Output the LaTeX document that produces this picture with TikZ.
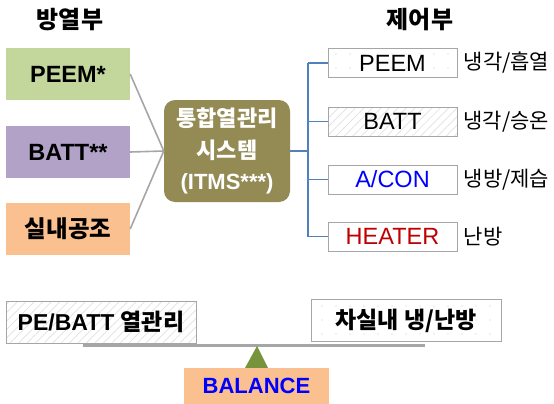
\documentclass[tikz,border=0pt]{standalone}
\usepackage{fontspec}
\setmainfont{Liberation Sans}
\newfontfamily\kr{Noto Sans CJK KR}
\usetikzlibrary{patterns.meta}
\definecolor{cgreen}{HTML}{C3D69B}
\definecolor{cpurple}{HTML}{B2A2C7}
\definecolor{corange}{HTML}{FAC090}
\definecolor{colive}{HTML}{948A54}
\definecolor{cblue}{HTML}{4F81BD}
\definecolor{cgray}{HTML}{A6A6A6}
\definecolor{ctri}{HTML}{77933C}
\definecolor{cred}{HTML}{C00000}
\tikzset{
  srcbox/.style={rectangle, minimum width=124pt, minimum height=52pt, inner sep=0pt, font=\fontsize{23.5}{27}\selectfont\bfseries},
  ctlbox/.style={rectangle, draw=cgray, line width=1pt, minimum width=129pt, minimum height=29pt, inner sep=0pt, font=\fontsize{23.5}{27}\selectfont},
  ctllabel/.style={anchor=west, inner sep=0pt, font=\fontsize{21}{25}\selectfont\kr},
  title/.style={font=\fontsize{24}{28}\selectfont\kr\bfseries, inner sep=0pt},
  hatch/.style={pattern={Lines[angle=45,distance=6pt,line width=0.7pt]}, pattern color=black!12},
  dotted pat/.style={pattern={Dots[distance=14pt,radius=0.7pt]}, pattern color=black!22},
  graylink/.style={draw=cgray, line width=1.6pt},
  bluelink/.style={draw=cblue, line width=1.8pt},
  botbox/.style={rectangle, draw=cgray, line width=1pt, minimum width=190pt, minimum height=42pt, inner sep=0pt, font=\fontsize{23}{27}\selectfont\bfseries}
}
\begin{document}
\begin{tikzpicture}[x=1pt,y=-1pt]
\useasboundingbox (0,0) rectangle (554,404);
% titles
\node[title] (t1) at (70,20) {방열부};
\node[title] (t2) at (420,20) {제어부};
% source boxes
\node[srcbox, fill=cgreen] (peem) at (68,74) {PEEM*};
\node[srcbox, fill=cpurple] (batt) at (68,152) {BATT**};
\node[srcbox, fill=corange] (hvac) at (68,229) {\kr 실내공조};
% ITMS
\node[rectangle, rounded corners=11pt, fill=colive, minimum width=126pt, minimum height=102pt, inner sep=0pt, text=white, align=center, font=\fontsize{22}{31.5}\selectfont\bfseries] (itms) at (227,151) {{\kr 통합열관리}\\{\kr 시스템}\\(ITMS***)};
\draw[graylink] (peem.east) -- (itms.west);
\draw[graylink] (batt.east) -- (itms.west);
\draw[graylink] (hvac.east) -- (itms.west);
% control boxes
\node[ctlbox, dotted pat] (r1) at (392.5,63) {PEEM};
\node[ctlbox, hatch] (r2) at (392.5,121.5) {BATT};
\node[ctlbox, fill=white, text=blue] (r3) at (392.5,179.5) {A/CON};
\node[ctlbox, fill=white, text=cred] (r4) at (392.5,236.5) {HEATER};
\node[ctllabel] (l1) at ([xshift=6pt]r1.east) {냉각/흡열};
\node[ctllabel] (l2) at ([xshift=6pt]r2.east) {냉각/승온};
\node[ctllabel] (l3) at ([xshift=6pt]r3.east) {냉방/제습};
\node[ctllabel] (l4) at ([xshift=6pt]r4.east) {난방};
\coordinate (bus) at (308,151);
\draw[bluelink] (itms.east) -- (bus);
\draw[bluelink] (bus |- r1.west) -- (bus |- r4.west);
\draw[bluelink] (bus |- r1.west) -- (r1.west);
\draw[bluelink] (bus |- r2.west) -- (r2.west);
\draw[bluelink] (bus |- r3.west) -- (r3.west);
\draw[bluelink] (bus |- r4.west) -- (r4.west);
% balance
\coordinate (barl) at (83,345);
\coordinate (barr) at (425,345);
\draw[draw=cgray, line width=3pt] (barl) -- (barr);
\node[botbox, hatch] (pe) at (101,322) {PE/BATT {\kr 열관리}};
\node[botbox, dotted pat, font=\fontsize{23}{27}\selectfont\kr\bfseries] (cabin) at (406,320.5) {차실내 냉/난방};
\coordinate (apex) at (257,346);
\fill[ctri] (apex) -- (268,368) -- (245,368) -- cycle;
\node[rectangle, fill=corange, minimum width=145pt, minimum height=36pt, inner sep=0pt, text=blue, font=\fontsize{22}{26}\selectfont\bfseries] (bal) at (256.5,386) {BALANCE};
\end{tikzpicture}
\end{document}
